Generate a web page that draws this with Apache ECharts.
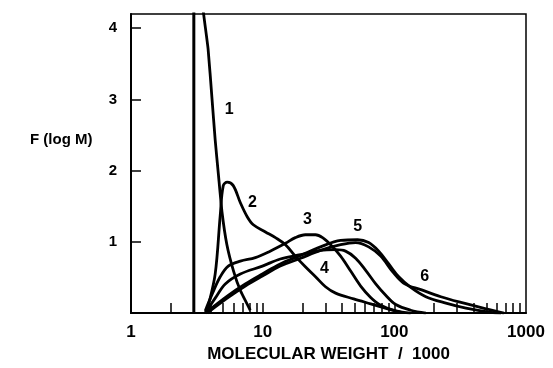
<!DOCTYPE html>
<html>
<head>
<meta charset="utf-8">
<script src="https://cdn.jsdelivr.net/npm/echarts@6/dist/echarts.min.js"></script>
<style>
html,body{margin:0;padding:0;background:#fff;}
#c{width:553px;height:368px;}
</style>
</head>
<body>
<div id="c"></div>
<script>
// ---- data (M = molecular weight / 1000, F = F(log M)) ----
var spikeM = [3, 3];
var spikeF = [0, 5];

var c1M = [3.4, 3.55, 3.85, 4.12, 4.36, 4.62, 4.91, 5.35, 6.01, 6.76, 8.05];
var c1F = [4.6, 4.22, 3.71, 3.02, 2.43, 1.93, 1.42, 0.96, 0.59, 0.32, 0.04];

var c2M = [3.7, 3.86, 4.36, 4.76, 5.02, 5.38, 5.98, 6.77, 7.65, 8.49, 10.5, 12.5, 14.9, 17.7, 21.1, 25.2, 30.0, 35.8, 49.1, 66.1, 89.1, 112];
var c2F = [0, 0.10, 0.55, 1.37, 1.79, 1.84, 1.79, 1.55, 1.35, 1.24, 1.14, 1.06, 0.96, 0.80, 0.65, 0.51, 0.37, 0.28, 0.20, 0.13, 0.06, 0.01];

var c3M = [3.66, 4.14, 4.76, 5.48, 6.77, 8.80, 11.4, 14.9, 17.7, 21.1, 25.2, 28.5, 32.8, 39.1, 46.6, 55.5, 66.1, 78.8, 102.5, 133];
var c3F = [0.03, 0.27, 0.51, 0.66, 0.73, 0.78, 0.87, 0.98, 1.06, 1.10, 1.10, 1.06, 0.96, 0.80, 0.59, 0.38, 0.22, 0.11, 0.03, 0];

var c4M = [3.66, 4.36, 5.20, 6.77, 9.95, 13.6, 19.4, 27.5, 35.8, 42.6, 50.8, 60.6, 72.2, 86.0, 102.5, 133, 173.5];
var c4F = [0, 0.21, 0.41, 0.55, 0.66, 0.76, 0.82, 0.88, 0.89, 0.87, 0.77, 0.60, 0.41, 0.25, 0.12, 0.04, 0];

var c5M = [3.66, 5.48, 7.38, 9.95, 13.6, 19.4, 27.5, 39.1, 52.6, 63.8, 76.1, 90.7, 108.0, 133.3, 173.5, 246.4, 349.9, 542.5, 646.3];
var c5F = [0, 0.25, 0.41, 0.55, 0.69, 0.81, 0.93, 1.02, 1.03, 0.99, 0.87, 0.69, 0.51, 0.36, 0.23, 0.14, 0.07, 0.01, 0];

var c6M = [3.79, 5.48, 7.38, 9.95, 13.6, 19.4, 27.5, 39.1, 50.8, 63.8, 78.8, 97.2, 120, 158.9, 225.6, 320.4, 496.8, 680];
var c6F = [0, 0.22, 0.38, 0.52, 0.66, 0.77, 0.88, 0.96, 0.99, 0.93, 0.80, 0.58, 0.41, 0.33, 0.23, 0.15, 0.06, 0];

var curveLabels = ['1', '2', '3', '4', '5', '6'];
var labelM = [5.58, 8.35, 21.9, 29.5, 52.6, 170];
var labelF = [2.86, 1.55, 1.31, 0.62, 1.21, 0.51];

var xTickLabels = ['1', '10', '100', '1000'];
var yTickLabels = ['', '1', '2', '3', '4'];

// ---- build ----
function lg(v) { return Math.log10(v); }
function pairs(M, F) { return M.map(function (m, i) { return [lg(m), F[i]]; }); }

var minorTicks = [];
[1, 10, 100].forEach(function (d) {
  for (var k = 1; k <= 9; k++) {
    var v = k * d;
    if (v > 1) minorTicks.push(lg(v));
  }
});

var FONT = '"Liberation Sans", Arial, Helvetica, sans-serif';
var curves = [[c1M, c1F], [c2M, c2F], [c3M, c3F], [c4M, c4F], [c5M, c5F], [c6M, c6F]];
var smoothness = [0.15, 0.35, 0.35, 0.35, 0.35, 0.35];

var series = [{
  type: 'line', data: pairs(spikeM, spikeF), symbol: 'none',
  lineStyle: { color: '#000', width: 3 }, clip: true, silent: true
}];
curves.forEach(function (c, i) {
  series.push({
    type: 'line', data: pairs(c[0], c[1]), symbol: 'none', smooth: smoothness[i],
    lineStyle: { color: '#000', width: 2.8 }, clip: true, silent: true,
    markPoint: {
      symbol: 'circle', symbolSize: 0, silent: true,
      label: { show: true, position: 'inside', color: '#000', fontWeight: 'bold', fontSize: 16, fontFamily: FONT, formatter: curveLabels[i] },
      data: [{ coord: [lg(labelM[i]), labelF[i]] }]
    }
  });
});

var chart = echarts.init(document.getElementById('c'), null, { renderer: 'canvas' });
chart.setOption({
  animation: false,
  backgroundColor: '#fff',
  grid: { left: 131, right: 27, top: 14, bottom: 48, show: true, borderColor: '#000', borderWidth: 1.5, backgroundColor: 'transparent' },
  xAxis: {
    type: 'value', min: 0, max: 3, interval: 1,
    axisLine: { show: true, lineStyle: { color: '#000', width: 2 } },
    axisTick: { show: true, inside: true, length: 10, lineStyle: { color: '#000', width: 1.5 }, customValues: minorTicks },
    splitLine: { show: false },
    axisLabel: { color: '#000', fontWeight: 'bold', fontSize: 17, fontFamily: FONT, margin: 11,
      formatter: function (v) { return xTickLabels[Math.round(v)]; } },
    name: 'MOLECULAR WEIGHT  /  1000', nameLocation: 'middle', nameGap: 32,
    nameTextStyle: { color: '#000', fontWeight: 'bold', fontSize: 17, fontFamily: FONT }
  },
  yAxis: {
    type: 'value', min: 0, max: 4.2, interval: 1,
    axisLine: { show: true, lineStyle: { color: '#000', width: 2 } },
    axisTick: { show: true, inside: true, length: 10, lineStyle: { color: '#000', width: 1.5 }, customValues: [1, 2, 3, 4] },
    splitLine: { show: false },
    axisLabel: { color: '#000', fontWeight: 'bold', fontSize: 15, fontFamily: FONT, margin: 14,
      customValues: [1, 2, 3, 4],
      formatter: function (v) { return yTickLabels[Math.round(v)]; } }
  },
  graphic: [{
    type: 'text', left: 30, top: 132,
    style: { text: 'F (log M)', fill: '#000', font: 'bold 15px ' + FONT }
  }],
  series: series
});
</script>
</body>
</html>
